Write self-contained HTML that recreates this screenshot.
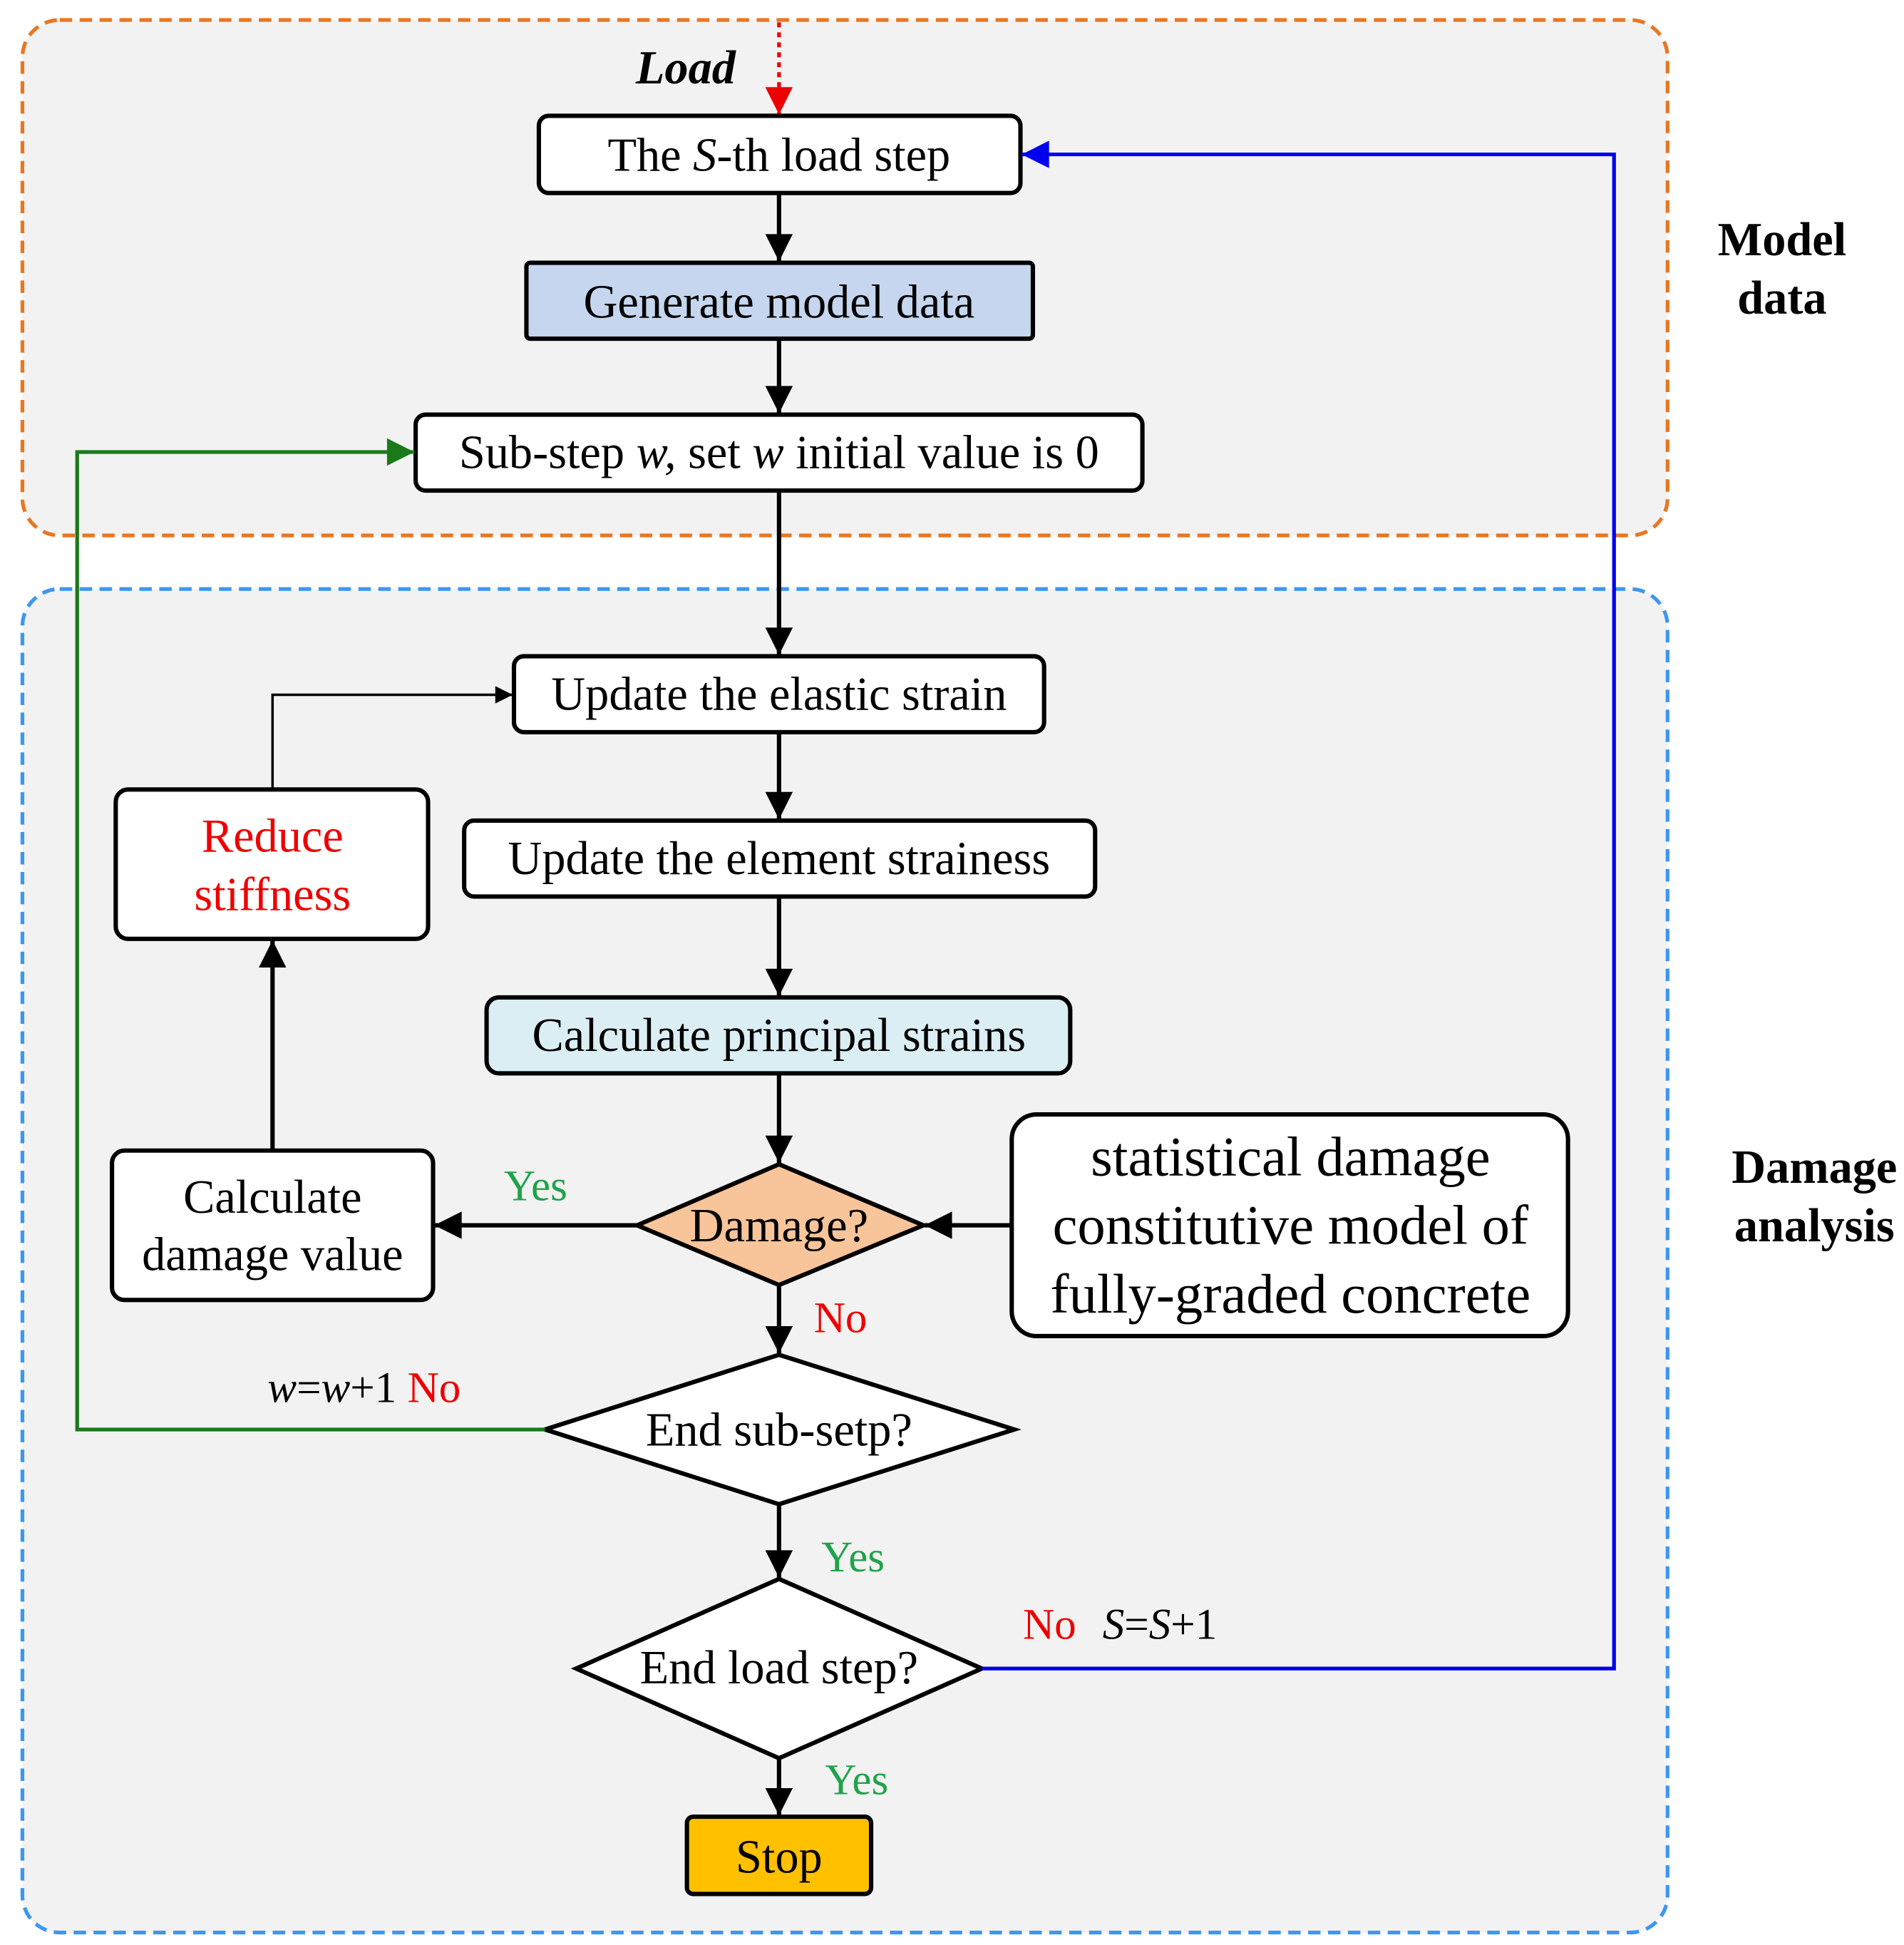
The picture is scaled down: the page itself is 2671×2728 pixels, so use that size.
<!DOCTYPE html>
<html><head><meta charset="utf-8"><style>
html,body{margin:0;padding:0;background:#fff}
svg{display:block}
text{font-family:"Liberation Serif",serif}
</style></head><body>
<svg width="2671" height="2728" viewBox="0 0 1530 1562" preserveAspectRatio="none" xmlns="http://www.w3.org/2000/svg">
<defs>
<marker id="ak" viewBox="0 0 10 10" refX="10" refY="5" markerWidth="18" markerHeight="14" markerUnits="userSpaceOnUse" orient="auto"><path d="M0,0 L10,5 L0,10 z" fill="#000"/></marker>
<marker id="ak2" viewBox="0 0 10 10" refX="10" refY="5" markerWidth="26" markerHeight="22" markerUnits="userSpaceOnUse" orient="auto"><path d="M0,0 L10,5 L0,10 z" fill="#000"/></marker>
<marker id="ag" viewBox="0 0 10 10" refX="10" refY="5" markerWidth="26" markerHeight="22" markerUnits="userSpaceOnUse" orient="auto"><path d="M0,0 L10,5 L0,10 z" fill="#1a7a1a"/></marker>
<marker id="ab" viewBox="0 0 10 10" refX="10" refY="5" markerWidth="26" markerHeight="22" markerUnits="userSpaceOnUse" orient="auto"><path d="M0,0 L10,5 L0,10 z" fill="#0000ee"/></marker>
<marker id="ar" viewBox="0 0 10 10" refX="10" refY="5" markerWidth="26" markerHeight="22" markerUnits="userSpaceOnUse" orient="auto"><path d="M0,0 L10,5 L0,10 z" fill="#ee0000"/></marker>
</defs>
<rect x="18" y="16" width="1322" height="414" rx="30" fill="#f2f2f2" stroke="#e87722" stroke-width="3" stroke-dasharray="10,6"/>
<rect x="18" y="473" width="1322" height="1079" rx="30" fill="#f2f2f2" stroke="#3c97f0" stroke-width="3" stroke-dasharray="10,6"/>
<text x="551" y="67" font-size="38" font-weight="bold" font-style="italic" text-anchor="middle">Load</text>
<line x1="626" y1="18" x2="626" y2="92" stroke="#ee0000" stroke-width="3" stroke-dasharray="4,4" marker-end="url(#ar)"/>
<g stroke="#000" stroke-width="3.5">
<rect x="433" y="93" width="387" height="62" rx="8" fill="#fff"/>
<rect x="423" y="211" width="407" height="61" rx="3" fill="#c5d6ee"/>
<rect x="334" y="333" width="584" height="61" rx="8" fill="#fff"/>
<rect x="413" y="527" width="426" height="61" rx="8" fill="#fff"/>
<rect x="373" y="659" width="507" height="61" rx="8" fill="#fff"/>
<rect x="391" y="801" width="469" height="61" rx="10" fill="#dbeef3"/>
<polygon points="512,984 626,935 742,984 626,1032" fill="#f8c49a"/>
<rect x="813" y="895" width="447" height="178" rx="20" fill="#fff"/>
<rect x="90" y="924" width="258" height="120" rx="10" fill="#fff"/>
<rect x="93" y="634" width="251" height="120" rx="10" fill="#fff"/>
<polygon points="438,1148 626,1088 815,1148 626,1208" fill="#fff"/>
<polygon points="463,1340 626,1268 789,1340 626,1412" fill="#fff"/>
<rect x="552" y="1459" width="148" height="62" rx="5" fill="#ffc000"/>
</g>
<g stroke="#000" stroke-width="3.5" fill="none">
<line x1="626" y1="155" x2="626" y2="210" marker-end="url(#ak2)"/>
<line x1="626" y1="272" x2="626" y2="332" marker-end="url(#ak2)"/>
<line x1="626" y1="394" x2="626" y2="526" marker-end="url(#ak2)"/>
<line x1="626" y1="588" x2="626" y2="658" marker-end="url(#ak2)"/>
<line x1="626" y1="720" x2="626" y2="800" marker-end="url(#ak2)"/>
<line x1="626" y1="862" x2="626" y2="934" marker-end="url(#ak2)"/>
<line x1="813" y1="984" x2="743" y2="984" marker-end="url(#ak2)"/>
<line x1="512" y1="984" x2="349" y2="984" marker-end="url(#ak2)"/>
<line x1="219" y1="924" x2="219" y2="755" marker-end="url(#ak2)"/>
<line x1="626" y1="1032" x2="626" y2="1087" marker-end="url(#ak2)"/>
<line x1="626" y1="1208" x2="626" y2="1267" marker-end="url(#ak2)"/>
<line x1="626" y1="1412" x2="626" y2="1458" marker-end="url(#ak2)"/>
</g>
<polyline points="219,634 219,558 412,558" fill="none" stroke="#000" stroke-width="2" marker-end="url(#ak)"/>
<polyline points="438,1148 62,1148 62,363 333,363" fill="none" stroke="#1a7a1a" stroke-width="3" marker-end="url(#ag)"/>
<polyline points="789,1340 1297,1340 1297,124 821,124" fill="none" stroke="#0000ee" stroke-width="3" marker-end="url(#ab)"/>
<g font-size="38" text-anchor="middle">
<text x="626" y="137">The <tspan font-style="italic">S</tspan>-th load step</text>
<text x="626" y="255">Generate model data</text>
<text x="626" y="376">Sub-step <tspan font-style="italic">w,</tspan> set <tspan font-style="italic">w</tspan> initial value is 0</text>
<text x="626" y="570">Update the elastic strain</text>
<text x="626" y="702">Update the element strainess</text>
<text x="626" y="844">Calculate  principal strains</text>
<text x="626" y="997">Damage?</text>
<text x="626" y="1161">End sub-setp?</text>
<text x="626" y="1352">End load step?</text>
<text x="626" y="1504">Stop</text>
<text x="219" y="974">Calculate</text>
<text x="219" y="1020">damage value</text>
<text x="219" y="684" fill="#ee0000">Reduce</text>
<text x="219" y="731" fill="#ee0000">stiffness</text>
</g>
<g font-size="45" text-anchor="middle">
<text x="1037" y="944">statistical damage</text>
<text x="1037" y="999">constitutive model of</text>
<text x="1037" y="1054">fully-graded concrete</text>
</g>
<g font-size="35">
<text x="405" y="964" fill="#1fa34a">Yes</text>
<text x="654" y="1070" fill="#ee0000">No</text>
<text x="215" y="1126"><tspan font-style="italic">w</tspan>=<tspan font-style="italic">w</tspan>+1 <tspan fill="#ee0000">No</tspan></text>
<text x="660" y="1262" fill="#1fa34a">Yes</text>
<text x="822" y="1316"><tspan fill="#ee0000">No</tspan><tspan x="886" font-style="italic">S</tspan>=<tspan font-style="italic">S</tspan>+1</text>
<text x="663" y="1441" fill="#1fa34a">Yes</text>
</g>
<g font-size="38" font-weight="bold" text-anchor="middle">
<text x="1432" y="205">Model</text>
<text x="1432" y="252">data</text>
<text x="1458" y="950">Damage</text>
<text x="1458" y="997">analysis</text>
</g>
</svg>
</body></html>
